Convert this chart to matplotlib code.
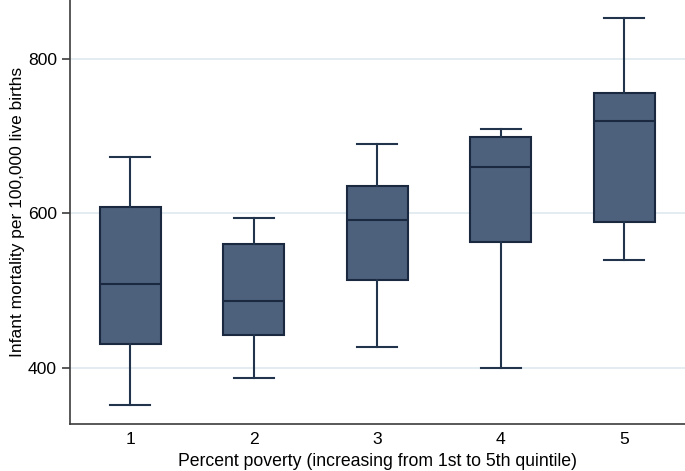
import matplotlib
matplotlib.use("Agg")
import matplotlib.pyplot as plt

plt.rcParams['font.family'] = ['Liberation Sans', 'DejaVu Sans']

# quintiles of percent poverty
groups = [1, 2, 3, 4, 5]
whislo = [352, 388, 427, 400, 540]
q1 = [431, 443, 514, 563, 589]
med = [509, 487, 592, 660, 720]
q3 = [609, 561, 636, 699, 755]
whishi = [673, 594, 690, 709, 853]

stats = []
for i in range(len(groups)):
    stats.append({'label': str(groups[i]), 'whislo': whislo[i], 'q1': q1[i],
                  'med': med[i], 'q3': q3[i], 'whishi': whishi[i], 'fliers': []})

fill = '#4e617c'
edge = '#1a2840'
wcol = '#22344c'

fig = plt.figure(figsize=(6.85, 4.71), dpi=100)
ax = fig.add_axes([69.5/685, 1-424/471, 1-69.5/685, 424/471])

ax.bxp(stats, positions=groups, widths=0.494, patch_artist=True, showfliers=False,
       boxprops=dict(facecolor=fill, edgecolor=edge, linewidth=1.5),
       medianprops=dict(color=edge, linewidth=1.5),
       whiskerprops=dict(color=wcol, linewidth=1.5),
       capprops=dict(color=wcol, linewidth=1.5),
       capwidths=0.324, zorder=3)

ax.set_xlim(0.509, 5.494)
ax.set_ylim(328, 875.8)
ax.set_yticks([400, 600, 800])
ax.yaxis.grid(True, color='#dfeaf0', linewidth=1.3, zorder=0)
ax.set_axisbelow(True)

for s in ['top', 'right']:
    ax.spines[s].set_visible(False)
for s in ['left', 'bottom']:
    ax.spines[s].set_color('#3c3c3c')
    ax.spines[s].set_linewidth(1.2)

ax.tick_params(axis='y', length=6, width=1.2, color='#3c3c3c', labelsize=12.6, pad=3)
ax.tick_params(axis='x', length=0, labelsize=12.6, pad=6)

ax.set_xlabel('Percent poverty (increasing from 1st to 5th quintile)', fontsize=12.7, labelpad=4)
ax.set_ylabel('Infant mortality per 100,000 live births', fontsize=12.5, labelpad=2)

fig.savefig('out.png', dpi=100)
